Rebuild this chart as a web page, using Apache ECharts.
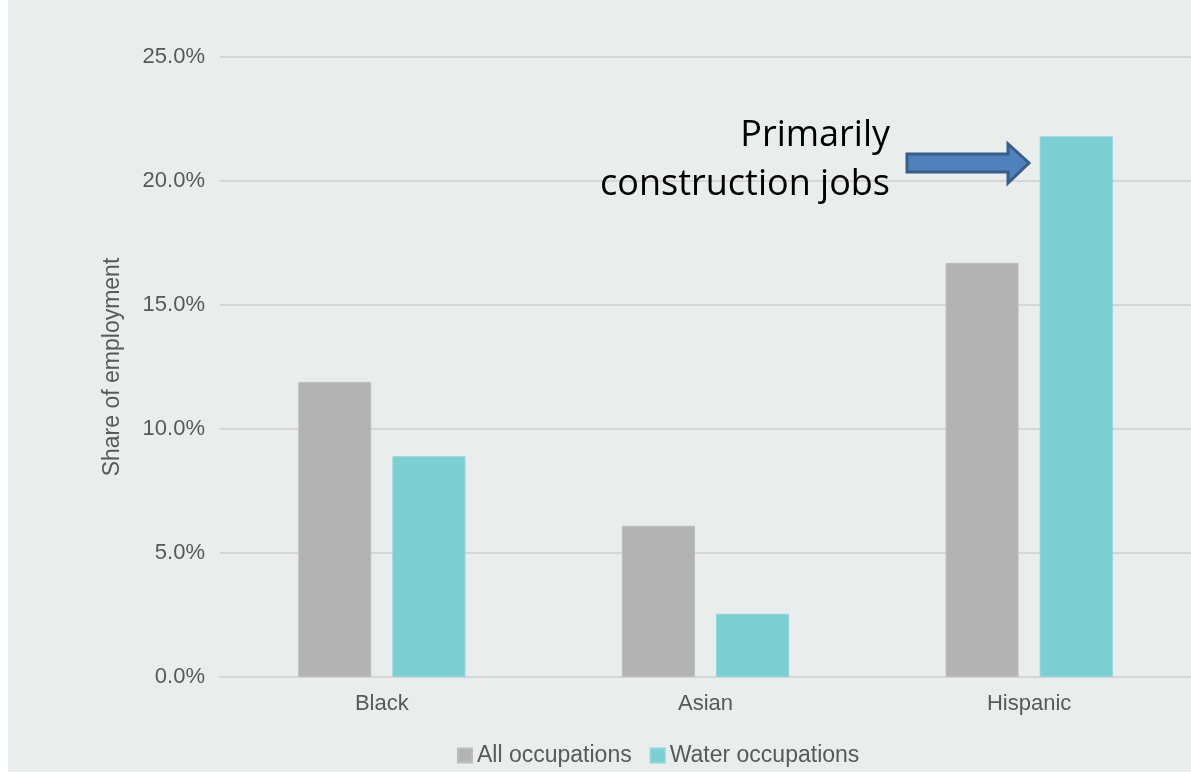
<!DOCTYPE html>
<html>
<head>
<meta charset="utf-8">
<script src="https://cdn.jsdelivr.net/npm/echarts@6/dist/echarts.min.js"></script>
<style>
html,body{margin:0;padding:0;background:#ffffff;}
#chart{width:1191px;height:773px;}
</style>
</head>
<body>
<div id="chart"></div>
<script>
const categories = ['Black', 'Asian', 'Hispanic'];
const allOccupations = [11.9, 6.1, 16.7];
const waterOccupations = [8.9, 2.55, 21.8];
const seriesNames = ['All occupations', 'Water occupations'];
const annotationLines = ['Primarily', 'construction jobs'];

const chart = echarts.init(document.getElementById('chart'));
const labelColor = '#595959';
const option = {
  backgroundColor: '#ffffff',
  animation: false,
  textStyle: { fontFamily: 'Liberation Sans, Arial, sans-serif' },
  grid: { left: 220, right: 0, top: 57, bottom: 96, containLabel: false },
  legend: {
    data: seriesNames,
    bottom: 1,
    left: 452,
    itemWidth: 14,
    itemHeight: 14,
    itemGap: 18,
    icon: 'rect',
    textStyle: { color: labelColor, fontSize: 23 }
  },
  xAxis: {
    type: 'category',
    data: categories,
    axisLine: { lineStyle: { color: '#d6d6d6', width: 2 } },
    axisTick: { show: false },
    axisLabel: { color: labelColor, fontSize: 22, margin: 16 }
  },
  yAxis: {
    type: 'value',
    min: 0,
    max: 25,
    interval: 5,
    name: 'Share of employment',
    nameLocation: 'middle',
    nameGap: 96,
    nameTextStyle: { color: labelColor, fontSize: 23 },
    axisLine: { show: false },
    axisTick: { show: false },
    axisLabel: {
      color: labelColor,
      fontSize: 22,
      margin: 15,
      formatter: v => v.toFixed(1) + '%'
    },
    splitLine: { lineStyle: { color: '#d6d6d6', width: 2 } }
  },
  series: [
    {
      name: seriesNames[0],
      type: 'bar',
      data: allOccupations,
      barWidth: 73,
      barGap: '29%',
      itemStyle: { color: '#b3b3b3', borderColor: '#bdbdbd', borderWidth: 1 }
    },
    {
      name: seriesNames[1],
      type: 'bar',
      data: waterOccupations,
      barWidth: 73,
      barGap: '29%',
      itemStyle: { color: '#7ccfd3', borderColor: '#8ad6d9', borderWidth: 1 }
    }
  ],
  graphic: [
    {
      type: 'rect',
      z: -10,
      silent: true,
      shape: { x: 8, y: 0, width: 1183, height: 772 },
      style: { fill: '#e9edec' }
    },
    {
      type: 'text',
      z: 10,
      x: 890,
      y: 136,
      style: {
        text: annotationLines[0],
        fill: '#000000',
        font: '36px "Open Sans", "Noto Sans", sans-serif',
        textAlign: 'right',
        textVerticalAlign: 'middle'
      }
    },
    {
      type: 'text',
      z: 10,
      x: 890,
      y: 185,
      style: {
        text: annotationLines[1],
        fill: '#000000',
        font: '36px "Open Sans", "Noto Sans", sans-serif',
        textAlign: 'right',
        textVerticalAlign: 'middle'
      }
    },
    {
      type: 'polygon',
      z: 10,
      shape: {
        points: [[907, 154], [1008, 154], [1008, 144], [1029, 163], [1008, 183], [1008, 172], [907, 172]]
      },
      style: { fill: '#4f81bd', stroke: '#385d8a', lineWidth: 3 }
    }
  ]
};
chart.setOption(option);
</script>
</body>
</html>
